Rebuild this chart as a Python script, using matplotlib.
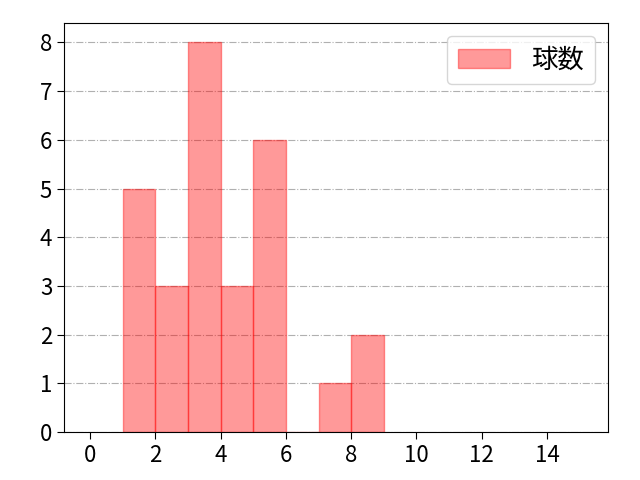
import matplotlib
matplotlib.use("Agg")
import matplotlib.pyplot as plt

plt.rcParams['font.family'] = ['Noto Sans CJK JP', 'DejaVu Sans']

bin_edges = [1, 2, 3, 4, 5, 6, 7, 8, 9]
counts = [5, 3, 8, 3, 6, 0, 1, 2]
label = "球数"

fig, ax = plt.subplots(figsize=(6.4, 4.8), dpi=100)
fig.subplots_adjust(left=64/640, right=608/640, top=1-23/480, bottom=1-432/480)
ax.hist(bin_edges[:-1], bins=bin_edges, weights=counts, color='red', alpha=0.4,
        edgecolor='red', label=label)
ax.set_xlim(-0.8, 15.87)
ax.set_ylim(0, 8.4)
ax.set_xticks(range(0, 15, 2))
ax.set_yticks(range(0, 9))
ax.yaxis.grid(True, linestyle='-.', color='#b0b0b0')
ax.set_axisbelow(True)
ax.tick_params(labelsize=16, length=5)
ax.legend(fontsize=19, loc='upper right', borderaxespad=0.5)
fig.savefig("out.png")
